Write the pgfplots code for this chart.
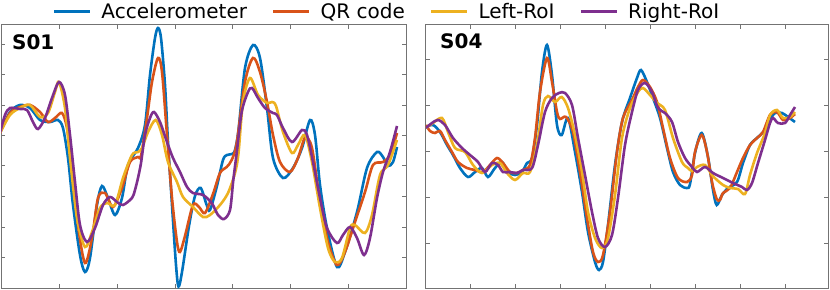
\documentclass[border=0pt]{standalone}
\usepackage{pgfplots}
\pgfplotsset{compat=1.18}
\usepackage{fontspec}
\setmainfont{DejaVu Sans}
\definecolor{cA}{rgb}{0,0.447,0.741}
\definecolor{cB}{rgb}{0.85,0.325,0.098}
\definecolor{cC}{rgb}{0.929,0.694,0.125}
\definecolor{cD}{rgb}{0.494,0.184,0.556}
\definecolor{axc}{gray}{0.45}
\pgfplotsset{panel/.style={scale only axis, height=263.3bp, y dir=reverse, ymin=24.7, ymax=288,
  axis line style={axc, line width=0.8bp}, tick style={axc, line width=0.8bp},
  major tick length=4bp, tick align=inside, xticklabels={}, yticklabels={},
  every axis plot/.append style={line width=2.6bp, smooth}, clip=true}}
\begin{document}
\begin{tikzpicture}
\begin{axis}[panel, at={(0bp,0bp)}, anchor=south west, width=405bp, xmin=1, xmax=406,
  xtick={59,117,175,232,290,348}, ytick={44.3,74.7,105,135.3,165.7,196.3,227,257.3},
  legend columns=4,
  legend image code/.code={\draw[#1, line width=2.6bp] (0bp,0bp) -- (36bp,0bp);},
  legend style={draw=none, fill=none, at={(axis description cs:0.128,1.049)}, anchor=west,
    inner sep=0pt, outer sep=0pt, nodes={inner sep=0pt}, column sep=10bp,
    /tikz/every even column/.append style={column sep=25bp},
    font=\fontsize{20bp}{24bp}\selectfont}]
\addplot[cA] coordinates {(0,133) (10,112) (20,105) (30,108) (40,120) (50,122) (58,120) (63,128) (68,158) (73,205) (80,255) (85,272) (90,258) (97,205) (102,186) (108,198) (115,215) (122,198) (128,165) (138,148) (145,125) (150,75) (155,38) (158,28) (161,38) (165,85) (168,142) (172,205) (176,265) (178.5,286.5) (182,272) (189,226) (195,196) (200.7,188) (206.7,205) (210,210) (216.7,187) (223,160) (227,155) (232,154) (235,150) (238.5,130) (245,68) (253,45) (260,58) (267,108) (273,158) (283,178) (293,168) (302,148) (310,120) (315,135) (320,185) (327,228) (337,267) (345,252) (357,212) (367,168) (377,152) (383,157) (388,166) (393,162) (397,147)};
\addlegendentry{Accelerometer}
\addplot[cB] coordinates {(0,133) (10,113) (20,107) (30,105) (40,112) (48,122) (55,118) (62,113) (67,128) (72,165) (78,225) (85,263) (92,238) (98,198) (105,193) (113,207) (122,188) (130,162) (138,157) (141,156) (147,118) (152,82) (158,58) (162,72) (167,135) (172,198) (177,242) (180,252) (185,236) (193,205) (199,207) (205,213) (213,194) (220,173) (226.7,167) (231.7,160) (236.7,143) (245,82) (253,58) (260,72) (267,102) (273,135) (280,162) (290,172) (298,158) (305,138) (312,148) (320,202) (328,242) (337,265) (345,252) (355,222) (365,192) (373,165) (383,162) (390,155) (397,133)};
\addlegendentry{QR code}
\addplot[cC] coordinates {(0,133) (10,115) (20,108) (30,105) (40,117) (48,113) (55,92) (59,82) (65,108) (70,158) (77,218) (85,247) (92,232) (100,208) (107,203) (115,205) (123,178) (132,155) (138,152) (142,148) (148,132) (155.7,120) (162,135) (168,162) (177,182) (183,197) (193,207) (203,217) (210,215) (220,205) (228,193) (235,173) (238.5,153) (243,102) (250,78) (258,95) (267,103) (272,102) (276,106) (283,132) (292,153) (298,145) (305,135) (312,162) (320,208) (328,248) (335,262) (342,258) (350,228) (355,225) (365,233) (372,215) (380,175) (388,165) (397,140)};
\addlegendentry{Left-RoI\hspace{20bp}}
\addplot[cD] coordinates {(0,133) (5,115) (10,108) (20,109) (27,110) (33,122) (38,129) (45,118) (52,98) (59,82) (65,95) (70,135) (75,182) (80,225) (87,242) (95,228) (103,205) (110,197) (117,202) (123,205) (132,198) (135,190) (138,178) (141,163) (145,135) (150,118) (154,112) (160,122) (167,142) (173,158) (180,172) (187,187) (193,193) (203,195) (211.7,203) (218,215) (224,219) (230,210) (233.3,180) (236.7,153) (241.7,112) (248,92) (252,88) (258,98) (265,108) (273,113) (277,115) (283,128) (292,142) (302,130) (307,135) (313,162) (320,198) (327,228) (337,243) (343,235) (350,227) (357,238) (364,255) (370,238) (377,198) (383,172) (390,152) (397,126)};
\addlegendentry{Right-RoI}
\node[anchor=base west, inner sep=0pt, font=\bfseries\fontsize{20bp}{24bp}\selectfont] at (axis description cs:0.027,0.904) {S01};
\end{axis}
\begin{axis}[panel, at={(424.7bp,0bp)}, anchor=south west, width=402.3bp, xmin=425.7, xmax=828,
  xtick={470.5,515.5,560.5,605.5,650.5,695.5,740,785}, ytick={59.3,105.3,151,197,243}]
\addplot[cA] coordinates {(426,127) (433,125) (440,132) (447,145) (453,155) (460,168) (468,177) (475,172) (482,168) (488,177) (495,168) (502,162) (508,172) (515,175) (522,172) (527,163) (532,158) (537,125) (542,72) (547,45) (552,75) (557,125) (561.7,135) (568,118) (575,152) (582,192) (588,232) (595,262) (599,270) (603,262) (608,225) (615,165) (622,122) (630,98) (637,78) (641,70) (647,82) (653,98) (660,118) (667,148) (673,172) (680,185) (687,188) (690,184) (695,153) (701.7,133) (708,157) (713,190) (716.7,205) (722,195) (728,188) (737,182) (743,163) (750,145) (757,138) (765,130) (770,120) (775,113) (782,113) (788,117) (795,122)};
\addplot[cB] coordinates {(426,125) (430,131) (435,133) (440,131) (445,140) (452,152) (458,162) (467,168) (475,170) (483,172) (490,165) (497,158) (503,163) (510,172) (517,173) (523,170) (530,165) (535,138) (540,92) (547,58) (552,82) (557,112) (560,119) (566,117) (573,132) (580,172) (587,218) (593,252) (598,262) (603,255) (610,212) (617,152) (623,118) (632,100) (638,87) (643,80) (650,87) (657,102) (663,128) (670,158) (678,178) (687,182) (692,175) (695,152) (701.7,135) (707,152) (712,182) (716.7,199) (720,200) (723,193) (730,188) (737,172) (743,158) (750,145) (757,138) (763,132) (770,115) (777,112) (783,120) (790,118) (795,114)};
\addplot[cC] coordinates {(426,128) (433,123) (442,118) (448,132) (455,148) (465,152) (473,165) (482,173) (492,165) (500,163) (507,173) (515,180) (523,173) (530,172) (537,145) (543,105) (548,96) (555,102) (561.7,97) (568,108) (575,135) (582,172) (588,212) (595,238) (602,248) (608,238) (615,195) (622,138) (630,108) (638,92) (643,88) (650,95) (657,103) (665,110) (673,138) (682,162) (688,168) (692,171) (697,167) (705,165) (712,175) (717,180) (723,185) (730,188) (738,189) (745,194) (750,175) (757,153) (765,133) (770,115) (777,110) (783,118) (790,117) (795,112)};
\addplot[cD] coordinates {(426,128) (432,123) (438,120) (445,125) (453,138) (462,148) (470,155) (478,162) (485,172) (492,163) (498,165) (503,172) (510,172) (517,173) (523,170) (532,168) (538,145) (545,112) (552,98) (559,93) (565,93) (572,105) (578,138) (585,175) (592,212) (598,238) (605,247) (612,235) (618,198) (625,145) (632,112) (638,90) (645,83) (652,92) (658,108) (665,113) (672,122) (678,142) (685,158) (692,167) (697,172) (705,167) (713,173) (723,178) (733,183) (742,187) (747,190) (752,183) (758,163) (765,140) (770,123) (773,118) (778,123) (785,123) (790,115) (795,107)};
\node[anchor=base west, inner sep=0pt, font=\bfseries\fontsize{20bp}{24bp}\selectfont] at (axis description cs:0.0355,0.908) {S04};
\end{axis}
\pgfresetboundingbox
\path (-1bp,-2bp) rectangle (829bp,288bp);
\end{tikzpicture}
\end{document}
